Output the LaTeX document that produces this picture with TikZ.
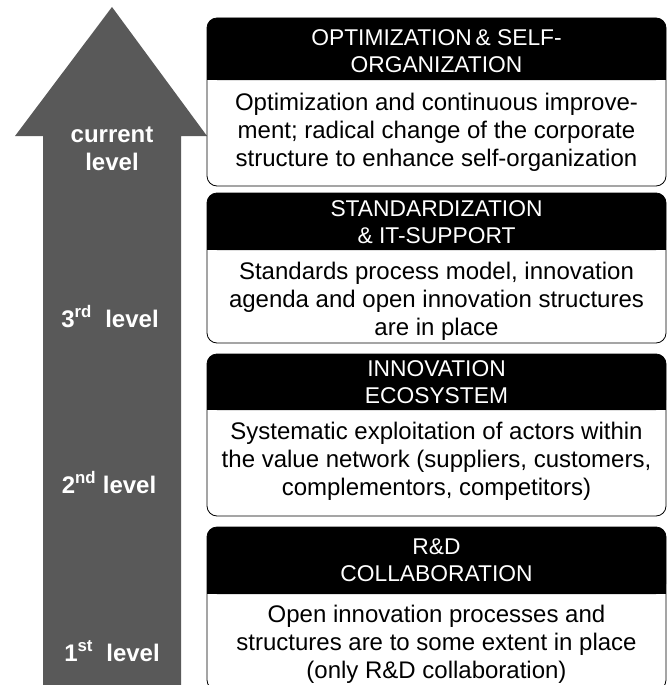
\documentclass[tikz,border=0pt]{standalone}
\usepackage{fontspec}
\setmainfont{Liberation Sans}
\usepackage{xcolor}
\usepackage{tikz}

\definecolor{arrowgray}{RGB}{89,89,89}

\tikzset{
  levelbox/.style={draw,line width=0.8pt,rounded corners=10pt,fill=white},
  headtext/.style={text=white,align=center,font=\fontsize{22.8}{27}\selectfont},
  bodytext/.style={align=center,font=\fontsize{24}{28}\selectfont},
  leveltext/.style={text=white,align=center,font=\fontsize{24}{28}\selectfont\bfseries}
}

\begin{document}
\begin{tikzpicture}[x=1pt,y=-1pt]
\useasboundingbox (0,0) rectangle (670,685);

% the big arrow
\fill[arrowgray] (43,690) -- (43,136) -- (15,136) -- (112,7) -- (207,136) -- (181,136) -- (181,690) -- cycle;

\node[leveltext] (cur) at (112,149) {current\\level};
\node[leveltext,anchor=base] (l3) at (110,327) {3\textsuperscript{rd}\ \ level};
\node[leveltext,anchor=base] (l2) at (109,493) {2\textsuperscript{nd} level};
\node[leveltext,anchor=base] (l1) at (112,661) {1\textsuperscript{st}\ \ level};

% boxes, black head on top
\draw[levelbox] (207,18) rectangle (666,186);
\fill[rounded corners=10pt] (207,18) rectangle (666,80);
\fill (207,60) rectangle (666,80);

\draw[levelbox] (207,193) rectangle (666,343);
\fill[rounded corners=10pt] (207,193) rectangle (666,250);
\fill (207,230) rectangle (666,250);

\draw[levelbox] (207,354) rectangle (666,516);
\fill[rounded corners=10pt] (207,354) rectangle (666,410);
\fill (207,390) rectangle (666,410);

\draw[levelbox] (207,527) rectangle (666,690);
\fill[rounded corners=10pt] (207,527) rectangle (666,594);
\fill (207,574) rectangle (666,594);

\node[headtext] (h1) at (436.5,51) {OPTIMIZATION\,\& SELF-\\ORGANIZATION};
\node[bodytext] (b1) at (436.5,132) {Optimization and continuous improve-\\ment; radical change of the corporate\\structure to enhance self-organization};

\node[headtext] (h2) at (436.5,222) {STANDARDIZATION\\\& IT-SUPPORT};
\node[bodytext] (b2) at (436.5,301) {Standards process model, innovation\\agenda and open innovation structures\\are in place};

\node[headtext] (h3) at (436.5,382) {INNOVATION\\ECOSYSTEM};
\node[bodytext] (b3) at (436.5,461) {Systematic exploitation of actors within\\the value network (suppliers, customers,\\complementors, competitors)};

\node[headtext] (h4) at (436.5,560) {R\&D\\COLLABORATION};
\node[bodytext] (b4) at (436.5,644) {Open innovation processes and\\structures are to some extent in place\\(only R\&D collaboration)};

\end{tikzpicture}
\end{document}
